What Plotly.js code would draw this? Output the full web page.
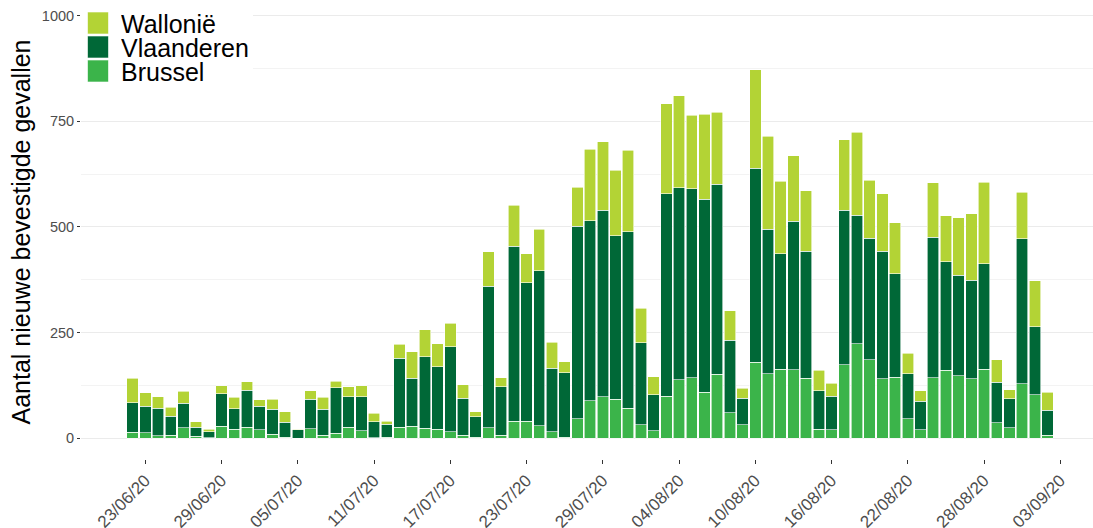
<!DOCTYPE html>
<html>
<head>
<meta charset="utf-8">
<script src="https://cdn.plot.ly/plotly-3.0.1.min.js"></script>
<style>
  html, body { margin: 0; padding: 0; background: #ffffff; }
  #chart { width: 1093px; height: 528px; }
</style>
</head>
<body>
<div id="chart"></div>
<script>
const dates = [
  '2020-06-22','2020-06-23','2020-06-24','2020-06-25','2020-06-26','2020-06-27','2020-06-28','2020-06-29','2020-06-30',
  '2020-07-01','2020-07-02','2020-07-03','2020-07-04','2020-07-05','2020-07-06','2020-07-07','2020-07-08','2020-07-09','2020-07-10',
  '2020-07-11','2020-07-12','2020-07-13','2020-07-14','2020-07-15','2020-07-16','2020-07-17','2020-07-18','2020-07-19','2020-07-20',
  '2020-07-21','2020-07-22','2020-07-23','2020-07-24','2020-07-25','2020-07-26','2020-07-27','2020-07-28','2020-07-29','2020-07-30',
  '2020-07-31','2020-08-01','2020-08-02','2020-08-03','2020-08-04','2020-08-05','2020-08-06','2020-08-07','2020-08-08','2020-08-09',
  '2020-08-10','2020-08-11','2020-08-12','2020-08-13','2020-08-14','2020-08-15','2020-08-16','2020-08-17','2020-08-18','2020-08-19',
  '2020-08-20','2020-08-21','2020-08-22','2020-08-23','2020-08-24','2020-08-25','2020-08-26','2020-08-27','2020-08-28','2020-08-29',
  '2020-08-30','2020-08-31','2020-09-01','2020-09-02'
];

const brussel = [14,12,5,6,24,4,1,28,21,25,19,9,2,0,22,6,11,25,17,1,2,
  26,28,23,21,15,6,2,24,6,40,40,29,15,2,46,88,98,92,70,31,17,99,138,143,108,151,60,31,
  179,152,163,162,141,21,19,174,223,185,140,144,46,19,143,161,148,140,163,36,24,129,103,7];

const vlaanderen = [69,63,65,46,58,22,14,77,48,88,56,59,35,20,70,62,108,73,81,37,31,
  163,114,170,148,201,88,48,336,115,414,328,367,150,153,455,427,441,387,418,195,85,480,455,447,457,450,171,63,
  460,343,274,351,301,91,80,365,305,288,302,245,106,68,332,257,238,234,250,96,69,343,160,59];

const wallonie = [58,32,28,21,29,12,6,19,27,20,16,24,25,1,20,28,16,23,26,21,7,
  33,62,64,54,56,32,12,81,22,97,69,98,62,26,93,169,163,155,193,81,43,213,218,174,202,171,70,24,
  233,220,171,156,144,49,31,167,196,137,136,121,49,25,130,109,136,157,193,53,21,110,110,42];

const tickDates = ['2020-06-23','2020-06-29','2020-07-05','2020-07-11','2020-07-17','2020-07-23','2020-07-29',
  '2020-08-04','2020-08-10','2020-08-16','2020-08-22','2020-08-28','2020-09-03'];
const tickLabels = ['23/06/20','29/06/20','05/07/20','11/07/20','17/07/20','23/07/20','29/07/20',
  '04/08/20','10/08/20','16/08/20','22/08/20','28/08/20','03/09/20'];

const yTicks = [0, 250, 500, 750, 1000];
const yMinorTicks = [125, 375, 625, 875];

const seriesNames = ['Brussel', 'Vlaanderen', 'Wallonië'];
const seriesColors = ['#3bb44a', '#006837', '#b3d335'];
const seriesValues = [brussel, vlaanderen, wallonie];

// plot-area geometry (pixels) used for placing the legend
const W = 1093, H = 528;
const M = { l: 81, r: 0, t: 5, b: 69 };
const plotW = W - M.l - M.r, plotH = H - M.t - M.b;
const px = v => (v - M.l) / plotW;
const py = v => (H - M.b - v) / plotH;

const DAY = 86400000;
const barWidth = 0.9 * DAY;
const lineStyle = { color: '#ffffff', width: 0.6 };

const traces = seriesNames.map((name, k) => ({
  name: name, x: dates, y: seriesValues[k], type: 'bar', width: barWidth,
  marker: { color: seriesColors[k], line: lineStyle }
}));

// legend drawn as shapes + annotations (top to bottom: Wallonië, Vlaanderen, Brussel)
const legendOrder = [2, 1, 0];
const shapes = [{
  type: 'rect', xref: 'paper', yref: 'paper', layer: 'above',
  x0: px(M.l), x1: px(253), y0: py(M.t), y1: py(86),
  fillcolor: '#ffffff', line: { width: 0 }
}];
const annotations = [];
legendOrder.forEach((k, row) => {
  const top = 12 + row * 24;
  shapes.push({
    type: 'rect', xref: 'paper', yref: 'paper', layer: 'above',
    x0: px(87.5), x1: px(108.5), y0: py(top), y1: py(top + 22),
    fillcolor: seriesColors[k], line: { color: '#ffffff', width: 0.6 }
  });
  annotations.push({
    xref: 'paper', yref: 'paper', x: px(119), y: py(top + 11.5),
    xanchor: 'left', yanchor: 'middle', showarrow: false, height: 23,
    text: seriesNames[k], font: { size: 25, color: '#000000' }
  });
});

const layout = {
  width: W, height: H,
  margin: { l: M.l, r: M.r, t: M.t, b: M.b, pad: 0 },
  barmode: 'stack',
  paper_bgcolor: '#ffffff', plot_bgcolor: '#ffffff',
  font: { family: '"Liberation Sans", Arial, sans-serif', color: '#000000' },
  showlegend: false,
  shapes: shapes,
  annotations: annotations,
  xaxis: {
    type: 'date',
    range: ['2020-06-17 22:34', '2020-09-05 13:48'],
    tickvals: tickDates, ticktext: tickLabels,
    tickangle: -45,
    tickfont: { size: 17, color: '#4d4d4d' },
    ticks: 'outside', ticklen: 4, tickcolor: '#333333', tickwidth: 1,
    showgrid: false, zeroline: false, showline: false
  },
  yaxis: {
    range: [-49.7, 1025.6],
    tickvals: yTicks,
    ticktext: yTicks.map(String),
    tickfont: { size: 14.5, color: '#4d4d4d' },
    ticks: 'outside', ticklen: 3, tickcolor: '#333333', tickwidth: 1,
    showgrid: true, gridcolor: '#ebebeb', gridwidth: 1,
    minor: { tickvals: yMinorTicks, showgrid: true, gridcolor: '#f3f3f3', gridwidth: 1, ticks: '' },
    zeroline: false, showline: false,
    title: { text: 'Aantal nieuwe bevestigde gevallen', font: { size: 25, color: '#000000' }, standoff: 4 }
  }
};

Plotly.newPlot('chart', traces, layout, { displayModeBar: false, staticPlot: true });
</script>
</body>
</html>
